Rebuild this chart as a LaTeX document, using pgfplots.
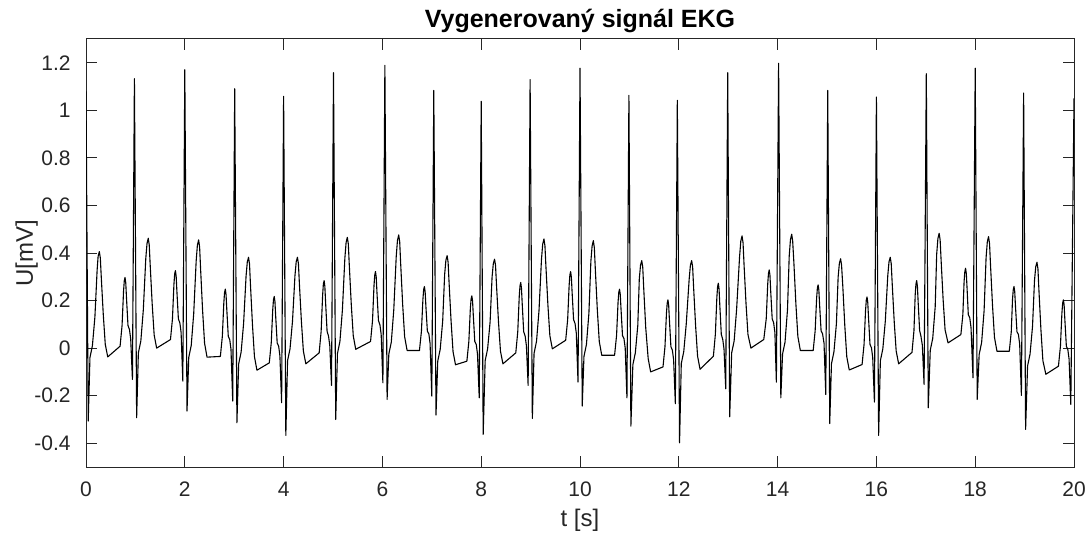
\documentclass[border=0pt]{standalone}
\usepackage{fontspec}
\setmainfont{Liberation Sans}
\usepackage{pgfplots}
\pgfplotsset{compat=1.18}
\definecolor{axgray}{RGB}{38,38,38}

\begin{document}
\begin{tikzpicture}
\begin{axis}[
  scale only axis,
  width=494pt, height=214pt,
  xmin=0, xmax=20, ymin=-0.5, ymax=1.3,
  xtick={0,2,4,6,8,10,12,14,16,18,20},
  ytick={-0.4,-0.2,0,0.2,0.4,0.6,0.8,1,1.2},
  tick align=inside, major tick length=5.5pt,
  axis line style={axgray,line width=0.5pt},
  every tick/.style={axgray,line width=0.5pt},
  /pgf/number format/assume math mode=true,
  tick label style={font=\fontsize{10.5}{12}\selectfont, text=axgray},
  xticklabel style={anchor=base, yshift=-14.8pt},
  yticklabel style={anchor=east, xshift=-4.2pt},
  xlabel={t [s]},
  ylabel={U[mV]},
  label style={font=\fontsize{12}{14}\selectfont, text=axgray},
  xlabel style={at={(axis description cs:0.5,0)}, anchor=base, yshift=-29.9pt},
  ylabel style={at={(axis description cs:0,0.5)}, anchor=base, yshift=26.5pt},
  title={Vygenerovaný signál EKG},
  every axis title shift=0pt,
  title style={font=\bfseries\fontsize{12.5}{14}\selectfont, text=black, at={(axis description cs:0.5,1)}, anchor=base, yshift=5.9pt},
  clip=true,
]
%% generated ECG trace, read off the reference beat by beat
\addplot[black, line width=0.55pt, line join=round] coordinates {
 (0,1.08)(0.045,-0.307)(0.08,-0.04)(0.13,0.011)(0.18,0.130)(0.225,0.327)(0.245,0.386)(0.27,0.406)
 (0.29,0.379)(0.31,0.295)(0.35,0.140)(0.39,0.016)(0.44,-0.037)
 (0.69,0.008)(0.73,0.095)(0.76,0.239)(0.775,0.283)(0.79,0.297)(0.805,0.274)(0.82,0.210)(0.85,0.095)(0.88,0.078)(0.905,0.038)
 (0.94,-0.132)(0.98,1.133)(1.025,-0.293)(1.06,-0.02)(1.11,0.03)(1.16,0.160)(1.21,0.376)(1.235,0.440)(1.26,0.462)
 (1.28,0.434)(1.30,0.347)(1.34,0.185)(1.38,0.055)(1.43,0.0)
 (1.71,0.036)(1.75,0.123)(1.78,0.268)(1.795,0.312)(1.81,0.326)(1.825,0.303)(1.84,0.239)(1.87,0.123)(1.90,0.106)(1.925,0.066)
 (1.96,-0.139)(2.0,1.171)(2.045,-0.265)(2.08,-0.039)(2.13,0.011)(2.18,0.144)(2.23,0.366)(2.255,0.433)(2.28,0.455)
 (2.30,0.425)(2.32,0.332)(2.36,0.159)(2.40,0.021)(2.45,-0.038)
 (2.72,-0.035)(2.76,0.050)(2.79,0.191)(2.805,0.234)(2.82,0.248)(2.835,0.225)(2.85,0.163)(2.88,0.050)(2.91,0.035)(2.935,-0.005)
 (2.97,-0.223)(3.01,1.091)(3.055,-0.314)(3.09,-0.067)(3.14,-0.017)(3.19,0.103)(3.24,0.302)(3.265,0.362)(3.29,0.382)
 (3.31,0.354)(3.33,0.263)(3.37,0.097)(3.41,-0.036)(3.46,-0.093)
 (3.71,-0.062)(3.75,0.022)(3.78,0.161)(3.795,0.203)(3.81,0.217)(3.825,0.195)(3.84,0.133)(3.87,0.022)(3.90,0.008)(3.925,-0.032)
 (3.96,-0.23)(4.0,1.059)(4.045,-0.367)(4.08,-0.053)(4.13,-0.003)(4.18,0.113)(4.23,0.305)(4.255,0.363)(4.28,0.382)
 (4.30,0.355)(4.32,0.270)(4.36,0.113)(4.40,-0.012)(4.45,-0.066)
 (4.72,-0.02)(4.76,0.071)(4.79,0.223)(4.805,0.269)(4.82,0.284)(4.835,0.260)(4.85,0.193)(4.88,0.071)(4.91,0.05)(4.935,0.01)
 (4.97,-0.157)(5.01,1.158)(5.055,-0.30)(5.09,-0.023)(5.14,0.028)(5.19,0.159)(5.24,0.378)(5.265,0.444)(5.29,0.466)
 (5.31,0.438)(5.33,0.348)(5.37,0.183)(5.41,0.052)(5.46,-0.005)
 (5.76,0.028)(5.80,0.116)(5.83,0.263)(5.845,0.307)(5.86,0.322)(5.875,0.298)(5.89,0.234)(5.92,0.116)(5.95,0.098)(5.975,0.058)
 (6.01,-0.146)(6.05,1.189)(6.095,-0.216)(6.13,-0.025)(6.18,0.025)(6.23,0.160)(6.28,0.386)(6.305,0.453)(6.33,0.476)
 (6.35,0.447)(6.37,0.355)(6.41,0.184)(6.45,0.048)(6.50,-0.01)
 (6.75,-0.01)(6.79,0.071)(6.82,0.205)(6.835,0.246)(6.85,0.259)(6.865,0.237)(6.88,0.178)(6.91,0.071)(6.94,0.06)(6.965,0.02)
 (7.0,-0.202)(7.04,1.084)(7.085,-0.282)(7.12,-0.055)(7.17,-0.005)(7.22,0.113)(7.26,0.310)(7.285,0.369)(7.31,0.389)
 (7.33,0.361)(7.35,0.274)(7.39,0.114)(7.43,-0.015)(7.48,-0.07)
 (7.71,-0.055)(7.75,0.028)(7.78,0.165)(7.795,0.206)(7.81,0.22)(7.825,0.198)(7.84,0.138)(7.87,0.028)(7.90,0.015)(7.925,-0.025)
 (7.96,-0.209)(8.0,1.038)(8.04,-0.363)(8.08,-0.053)(8.13,-0.003)(8.18,0.110)(8.22,0.299)(8.245,0.355)(8.27,0.374)
 (8.29,0.348)(8.31,0.264)(8.35,0.110)(8.39,-0.013)(8.44,-0.066)
 (8.70,-0.02)(8.74,0.069)(8.77,0.217)(8.785,0.261)(8.80,0.276)(8.815,0.252)(8.83,0.187)(8.86,0.069)(8.89,0.05)(8.915,0.01)
 (8.95,-0.157)(8.99,1.129)(9.035,-0.296)(9.07,-0.022)(9.12,0.029)(9.17,0.158)(9.22,0.373)(9.245,0.438)(9.27,0.459)
 (9.29,0.431)(9.31,0.344)(9.35,0.182)(9.39,0.052)(9.44,-0.003)
 (9.71,0.033)(9.75,0.120)(9.78,0.264)(9.795,0.308)(9.81,0.322)(9.825,0.299)(9.84,0.235)(9.87,0.120)(9.90,0.103)(9.925,0.063)
 (9.96,-0.143)(10.0,1.177)(10.045,-0.244)(10.08,-0.035)(10.13,0.015)(10.18,0.146)(10.22,0.365)(10.245,0.430)(10.27,0.452)
 (10.29,0.423)(10.31,0.332)(10.35,0.163)(10.39,0.028)(10.44,-0.03)
 (10.70,-0.03)(10.74,0.053)(10.77,0.192)(10.785,0.234)(10.80,0.248)(10.815,0.226)(10.83,0.165)(10.86,0.053)(10.89,0.04)(10.915,0.0)
 (10.95,-0.209)(10.99,1.063)(11.03,-0.328)(11.07,-0.07)(11.12,-0.02)(11.17,0.096)(11.20,0.290)(11.225,0.349)(11.25,0.368)
 (11.27,0.340)(11.29,0.251)(11.33,0.087)(11.38,-0.044)(11.43,-0.1)
 (11.68,-0.079)(11.72,0.006)(11.75,0.147)(11.765,0.189)(11.78,0.203)(11.795,0.180)(11.81,0.118)(11.84,0.006)(11.87,-0.009)(11.895,-0.049)
 (11.93,-0.234)(11.97,1.042)(12.015,-0.398)(12.05,-0.065)(12.10,-0.015)(12.15,0.100)(12.21,0.291)(12.235,0.349)(12.26,0.368)
 (12.28,0.341)(12.30,0.254)(12.34,0.094)(12.38,-0.034)(12.43,-0.089)
 (12.70,-0.034)(12.74,0.058)(12.77,0.212)(12.785,0.258)(12.80,0.273)(12.815,0.248)(12.83,0.181)(12.86,0.058)(12.89,0.036)(12.915,-0.004)
 (12.95,-0.171)(12.99,1.158)(13.03,-0.289)(13.07,-0.02)(13.12,0.03)(13.17,0.163)(13.23,0.384)(13.255,0.450)(13.28,0.472)
 (13.30,0.444)(13.32,0.354)(13.36,0.189)(13.40,0.057)(13.46,0.0)
 (13.72,0.036)(13.77,0.124)(13.80,0.270)(13.815,0.314)(13.83,0.329)(13.845,0.306)(13.86,0.241)(13.89,0.124)(13.92,0.106)(13.945,0.066)
 (13.975,-0.143)(14.02,1.198)(14.065,-0.209)(14.10,-0.025)(14.15,0.025)(14.20,0.161)(14.235,0.388)(14.26,0.456)(14.285,0.479)
 (14.305,0.450)(14.33,0.357)(14.37,0.186)(14.41,0.049)(14.46,-0.01)
 (14.72,-0.01)(14.76,0.073)(14.79,0.211)(14.805,0.252)(14.82,0.266)(14.835,0.244)(14.85,0.183)(14.88,0.073)(14.91,0.06)(14.94,0.02)
 (14.975,-0.195)(15.015,1.084)(15.055,-0.317)(15.09,-0.066)(15.14,-0.016)(15.19,0.102)(15.225,0.298)(15.25,0.356)(15.275,0.376)
 (15.295,0.348)(15.32,0.259)(15.36,0.095)(15.40,-0.036)(15.45,-0.092)
 (15.71,-0.069)(15.75,0.016)(15.78,0.158)(15.795,0.201)(15.81,0.215)(15.825,0.192)(15.84,0.130)(15.87,0.016)(15.90,0.001)(15.925,-0.039)
 (15.96,-0.227)(16.0,1.056)(16.045,-0.367)(16.08,-0.053)(16.13,-0.003)(16.18,0.113)(16.23,0.305)(16.255,0.363)(16.28,0.382)
 (16.30,0.355)(16.32,0.270)(16.36,0.113)(16.40,-0.012)(16.45,-0.066)
 (16.72,-0.018)(16.76,0.073)(16.785,0.224)(16.80,0.269)(16.815,0.284)(16.83,0.260)(16.845,0.193)(16.875,0.073)(16.90,0.052)(16.93,0.012)
 (16.965,-0.153)(17.01,1.154)(17.05,-0.251)(17.09,-0.009)(17.14,0.041)(17.19,0.174)(17.22,0.395)(17.245,0.461)(17.27,0.483)
 (17.29,0.455)(17.31,0.368)(17.35,0.206)(17.39,0.077)(17.45,0.022)
 (17.71,0.057)(17.75,0.141)(17.775,0.280)(17.79,0.322)(17.805,0.336)(17.82,0.314)(17.835,0.252)(17.86,0.141)(17.89,0.127)(17.915,0.087)
 (17.955,-0.125)(18.0,1.177)(18.04,-0.216)(18.08,-0.027)(18.13,0.024)(18.18,0.158)(18.22,0.380)(18.245,0.447)(18.27,0.469)
 (18.29,0.440)(18.31,0.349)(18.35,0.180)(18.39,0.045)(18.44,-0.013)
 (18.69,-0.013)(18.73,0.069)(18.755,0.205)(18.77,0.245)(18.785,0.259)(18.80,0.237)(18.815,0.177)(18.845,0.069)(18.875,0.057)(18.90,0.017)
 (18.935,-0.199)(18.98,1.073)(19.02,-0.342)(19.06,-0.075)(19.11,-0.025)(19.16,0.091)(19.20,0.284)(19.225,0.342)(19.25,0.361)
 (19.27,0.333)(19.29,0.243)(19.33,0.078)(19.37,-0.053)(19.43,-0.11)
 (19.685,-0.076)(19.725,0.008)(19.755,0.147)(19.77,0.189)(19.785,0.203)(19.80,0.181)(19.815,0.119)(19.845,0.008)(19.875,-0.006)(19.90,-0.046)
 (19.935,-0.237)(20.0,1.05)
};
\end{axis}
\pgfresetboundingbox
\path ([xshift=-43pt,yshift=-34.5pt]current axis.south west) rectangle ([xshift=7.5pt,yshift=19.5pt]current axis.north east);
\end{tikzpicture}
\end{document}
